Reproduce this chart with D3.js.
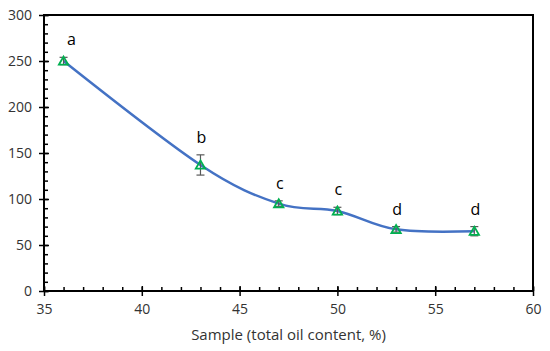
<!DOCTYPE html>
<html lang="en">
<head>
<meta charset="UTF-8">
<script src="https://cdnjs.cloudflare.com/ajax/libs/d3/7.8.5/d3.min.js"></script>
<style>
  body { margin: 0; background: #fff; font-family: 'Open Sans', sans-serif; }
  .tick text { font-family: 'Open Sans', sans-serif; font-size: 14px; fill: #333; }
</style>
</head>
<body>
<svg></svg>
<script>
const oilContent = [36, 43, 47, 50, 53, 57]
const meanValue = [250, 137, 95, 87, 67, 65]
const errValue = [4, 11, 3, 4, 3, 5]
const groupLetter = ['a', 'b', 'c', 'c', 'd', 'd']
const xTicks = [35, 40, 45, 50, 55, 60]
const yTicks = [0, 50, 100, 150, 200, 250, 300]

const W = 550, H = 351
const margin = {top: 15, right: 17, bot: 60, left: 44}
const w = W - margin.left - margin.right
const h = H - margin.top - margin.bot

const svg = d3.select('svg').attr('width', W).attr('height', H)
const g = svg.append('g').attr('transform', 'translate(' + margin.left + ',' + margin.top + ')')

const x = d3.scaleLinear().domain([35, 60]).range([0, w])
const y = d3.scaleLinear().domain([0, 300]).range([h, 0])

// minor ticks (inside only)
g.append('g').attr('transform', 'translate(0,' + h + ')')
  .call(d3.axisTop(x).tickValues(d3.range(35, 61, 1)).tickSize(4).tickFormat(''))
  .call(a => a.select('.domain').remove())
g.append('g')
  .call(d3.axisRight(y).tickValues(d3.range(0, 301, 10)).tickSize(4).tickFormat(''))
  .call(a => a.select('.domain').remove())

// major ticks crossing the axis
g.append('g').attr('transform', 'translate(0,' + (h - 5) + ')')
  .call(d3.axisBottom(x).tickValues(xTicks).tickSize(10).tickFormat(''))
  .call(a => a.select('.domain').remove())
g.append('g').attr('transform', 'translate(5,0)')
  .call(d3.axisLeft(y).tickValues(yTicks).tickSize(10).tickFormat(''))
  .call(a => a.select('.domain').remove())

// labels
g.append('g').attr('transform', 'translate(0,' + h + ')')
  .call(d3.axisBottom(x).tickValues(xTicks).tickSize(0).tickPadding(13))
  .call(a => a.select('.domain').remove())
g.append('g')
  .call(d3.axisLeft(y).tickValues(yTicks).tickSize(0).tickPadding(12))
  .call(a => a.select('.domain').remove())

g.selectAll('.tick line').attr('stroke', '#000').attr('stroke-width', 1.5)

// frame
g.append('rect').attr('width', w).attr('height', h)
  .attr('fill', 'none').attr('stroke', '#000').attr('stroke-width', 2)

const pts = oilContent.map((d, i) => [x(d), y(meanValue[i])])

// smoothed line
g.append('path')
  .attr('d', d3.line().curve(d3.curveCatmullRom.alpha(0))(pts))
  .attr('fill', 'none').attr('stroke', '#4472c4').attr('stroke-width', 2.5)

// error bars
const eb = g.selectAll('.err').data(oilContent).enter().append('g').attr('stroke', '#595959').attr('stroke-width', 1.2)
eb.append('line')
  .attr('x1', d => x(d)).attr('x2', d => x(d))
  .attr('y1', (d, i) => y(meanValue[i] - errValue[i]))
  .attr('y2', (d, i) => y(meanValue[i] + errValue[i]))
eb.append('line')
  .attr('x1', d => x(d) - 4).attr('x2', d => x(d) + 4)
  .attr('y1', (d, i) => y(meanValue[i] - errValue[i]))
  .attr('y2', (d, i) => y(meanValue[i] - errValue[i]))
eb.append('line')
  .attr('x1', d => x(d) - 4).attr('x2', d => x(d) + 4)
  .attr('y1', (d, i) => y(meanValue[i] + errValue[i]))
  .attr('y2', (d, i) => y(meanValue[i] + errValue[i]))

// triangle markers
g.selectAll('.mk').data(oilContent).enter().append('path')
  .attr('d', d3.symbol().type(d3.symbolTriangle).size(38))
  .attr('transform', (d, i) => 'translate(' + x(d) + ',' + (y(meanValue[i]) + 1) + ')')
  .attr('fill', 'none').attr('stroke', '#00b050').attr('stroke-width', 1.8)

// group letters
g.selectAll('.lt').data(groupLetter).enter().append('text')
  .attr('x', (d, i) => x(oilContent[i]) + (i == 0 ? 8 : 1))
  .attr('y', (d, i) => y(meanValue[i] + errValue[i]) - 12)
  .attr('text-anchor', 'middle')
  .style('font-size', '16px').attr('fill', '#000')
  .text(d => d)

// axis title
svg.append('text')
  .attr('x', margin.left + w / 2).attr('y', 340)
  .attr('text-anchor', 'middle')
  .style('font-size', '15px').attr('fill', '#333')
  .text('Sample (total oil content, %)')
</script>
</body>
</html>
